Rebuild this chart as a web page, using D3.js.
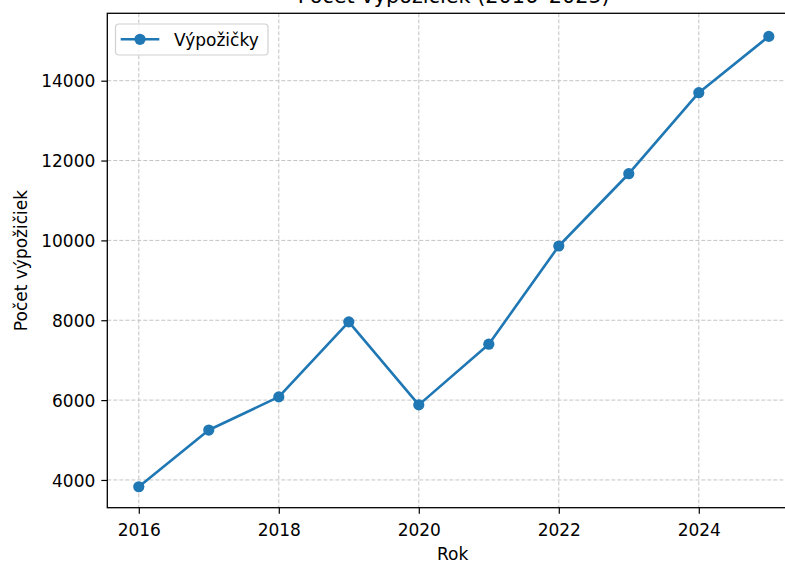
<!DOCTYPE html>
<html>
<head>
<meta charset="utf-8">
<script src="https://cdn.jsdelivr.net/npm/d3@7"></script>
<style>
  html, body { margin: 0; padding: 0; background: #fff; }
  svg { display: block; }
  text { font-family: "DejaVu Sans", sans-serif; fill: #000; }
</style>
</head>
<body>
<script>
const years = [2016, 2017, 2018, 2019, 2020, 2021, 2022, 2023, 2024, 2025];
const loans = [3830, 5250, 6080, 7960, 5880, 7400, 9860, 11670, 13700, 15110];
const xTicks = [2016, 2018, 2020, 2022, 2024];
const yTicks = [4000, 6000, 8000, 10000, 12000, 14000];
const titleText = "Počet výpožičiek (2016–2025)";
const xLabel = "Rok";
const yLabel = "Počet výpožičiek";
const seriesName = "Výpožičky";

(function () {
const W = 785, H = 563;
const pLeft = 107.3, pRight = 800.3, pTop = 13.3, pBottom = 507.7;
const color = "#1f77b4";

const svg = d3.select("body").append("svg").attr("width", W).attr("height", H);

const x = d3.scaleLinear().domain([2015.55, 2025.45]).range([pLeft, pRight]);
const y = d3.scaleLinear().domain([3305, 15688]).range([pBottom, pTop]);

// grid
const grid = svg.append("g");
grid.selectAll(".gx").data(xTicks).join("line")
  .attr("x1", d => x(d)).attr("x2", d => x(d))
  .attr("y1", pTop).attr("y2", pBottom)
  .attr("stroke", "#c4c4c4").attr("stroke-width", 1).attr("stroke-dasharray", "4,2");
grid.selectAll(".gy").data(yTicks).join("line")
  .attr("x1", pLeft).attr("x2", pRight)
  .attr("y1", d => y(d)).attr("y2", d => y(d))
  .attr("stroke", "#c4c4c4").attr("stroke-width", 1).attr("stroke-dasharray", "4,2");

// axes
const xAxis = d3.axisBottom(x).tickValues(xTicks).tickFormat(d3.format("d")).tickSizeOuter(0).tickSize(6).tickPadding(5);
const yAxis = d3.axisLeft(y).tickValues(yTicks).tickFormat(d3.format("d")).tickSizeOuter(0).tickSize(6).tickPadding(6);

const gx = svg.append("g").attr("transform", `translate(0,${pBottom})`).call(xAxis);
const gy = svg.append("g").attr("transform", `translate(${pLeft},0)`).call(yAxis);
[gx, gy].forEach(g => {
  g.select(".domain").remove();
  g.selectAll(".tick line").attr("stroke", "#000").attr("stroke-width", 1.2);
  g.selectAll(".tick text").style("font-family", "DejaVu Sans").style("font-size", "17px").attr("fill", "#000");
});
gx.selectAll(".tick text").attr("dy", null).attr("y", 28);
gy.selectAll(".tick text").attr("dy", "0.36em");

// spines
svg.append("rect").attr("x", pLeft).attr("y", pTop).attr("width", pRight - pLeft).attr("height", pBottom - pTop)
  .attr("fill", "none").attr("stroke", "#000").attr("stroke-width", 1.3);

// line
const line = d3.line().x((d, i) => x(years[i])).y(d => y(d));
svg.append("path").datum(loans).attr("d", line)
  .attr("fill", "none").attr("stroke", color).attr("stroke-width", 2.6).attr("stroke-linejoin", "round");
svg.selectAll(".pt").data(loans).join("circle")
  .attr("cx", (d, i) => x(years[i])).attr("cy", d => y(d)).attr("r", 5.6).attr("fill", color);

// title & labels
svg.append("text").attr("x", (pLeft + pRight) / 2).attr("y", 3).attr("text-anchor", "middle")
  .style("font-size", "20.8px").text(titleText);
svg.append("text").attr("x", 452.7).attr("y", 560).attr("text-anchor", "middle")
  .style("font-size", "17px").text(xLabel);
svg.append("text").attr("transform", `translate(27,${(pTop + pBottom) / 2}) rotate(-90)`)
  .attr("text-anchor", "middle").style("font-size", "17px").text(yLabel);

// legend
const lg = svg.append("g");
lg.append("rect").attr("x", 115.5).attr("y", 24).attr("width", 152.5).attr("height", 31).attr("rx", 3.5)
  .attr("fill", "#fff").attr("fill-opacity", 0.8).attr("stroke", "#d0d0d0").attr("stroke-width", 1.2);
lg.append("line").attr("x1", 120.7).attr("x2", 159.3).attr("y1", 39.3).attr("y2", 39.3)
  .attr("stroke", color).attr("stroke-width", 2.6);
lg.append("circle").attr("cx", 140).attr("cy", 39.3).attr("r", 5.6).attr("fill", color);
lg.append("text").attr("x", 174).attr("y", 45.5).style("font-size", "17px").text(seriesName);
})();
</script>
</body>
</html>
